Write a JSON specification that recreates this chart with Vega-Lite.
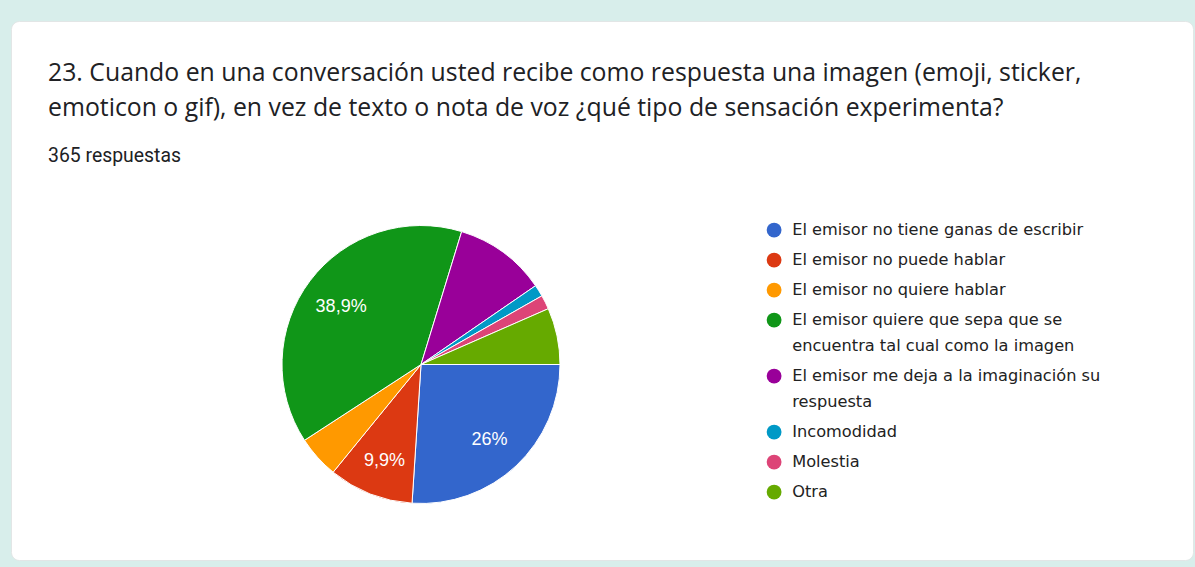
{
  "$schema": "https://vega.github.io/schema/vega-lite/v6.json",
  "width": 1182,
  "height": 539,
  "autosize": {"type": "none"},
  "padding": {"left": 11, "top": 21, "right": 2, "bottom": 7},
  "background": "#d8eeeb",
  "view": {"fill": "white", "cornerRadius": 8, "stroke": "#e2e6e6", "strokeWidth": 1},
  "config": {
    "style": {"guide-label": {"lineHeight": 26}}
  },
  "title": {
    "text": ["23. Cuando en una conversación usted recibe como respuesta una imagen (emoji, sticker,", "emoticon o gif), en vez de texto o nota de voz ¿qué tipo de sensación experimenta?"],
    "subtitle": "365 respuestas",
    "anchor": "start",
    "frame": "group",
    "orient": "top",
    "offset": -144,
    "dx": 37,
    "font": "Open Sans",
    "fontSize": 24.8,
    "fontWeight": "normal",
    "lineHeight": 35,
    "color": "#202124",
    "subtitleFont": "Roboto",
    "subtitleFontSize": 19.4,
    "subtitleColor": "#202124",
    "subtitlePadding": 26
  },
  "data": {
    "values": [
      {"idx": 1, "respuesta": "El emisor no tiene ganas de escribir", "n": 95, "etiqueta": "26%"},
      {"idx": 2, "respuesta": "El emisor no puede hablar", "n": 36, "etiqueta": "9,9%"},
      {"idx": 3, "respuesta": "El emisor no quiere hablar", "n": 18, "etiqueta": ""},
      {"idx": 4, "respuesta": "El emisor quiere que sepa que se encuentra tal cual como la imagen", "n": 142, "etiqueta": "38,9%"},
      {"idx": 5, "respuesta": "El emisor me deja a la imaginación su respuesta", "n": 39, "etiqueta": ""},
      {"idx": 6, "respuesta": "Incomodidad", "n": 5, "etiqueta": ""},
      {"idx": 7, "respuesta": "Molestia", "n": 6, "etiqueta": ""},
      {"idx": 8, "respuesta": "Otra", "n": 24, "etiqueta": ""}
    ]
  },
  "encoding": {
    "theta": {"field": "n", "type": "quantitative", "stack": true, "scale": {"range": [1.5707963, 7.8539816]}},
    "order": {"field": "idx", "type": "quantitative"}
  },
  "layer": [
    {
      "mark": {"type": "arc", "outerRadius": 139, "stroke": "white", "strokeWidth": 1, "x": 410, "y": 343.5},
      "encoding": {
        "color": {
          "field": "respuesta",
          "type": "nominal",
          "sort": {"field": "idx"},
          "scale": {
            "domain": ["El emisor no tiene ganas de escribir", "El emisor no puede hablar", "El emisor no quiere hablar", "El emisor quiere que sepa que se encuentra tal cual como la imagen", "El emisor me deja a la imaginación su respuesta", "Incomodidad", "Molestia", "Otra"],
            "range": ["#3366cc", "#dc3912", "#ff9900", "#109618", "#990099", "#0099c6", "#dd4477", "#66aa00"]
          },
          "legend": {
            "orient": "none",
            "legendX": 755,
            "legendY": 201,
            "title": null,
            "symbolType": "circle",
            "symbolSize": 220,
            "symbolStrokeWidth": 0,
            "labelFont": "DejaVu Sans",
            "labelFontSize": 16.2,
            "labelColor": "#222222",
            "labelOffset": 10,
            "labelLimit": 400,
            "rowPadding": 13,
            "labelExpr": "datum.label == 'El emisor quiere que sepa que se encuentra tal cual como la imagen' ? ['El emisor quiere que sepa que se', 'encuentra tal cual como la imagen'] : datum.label == 'El emisor me deja a la imaginación su respuesta' ? ['El emisor me deja a la imaginación su', 'respuesta'] : datum.label"
          }
        }
      }
    },
    {
      "mark": {"type": "text", "radius": 100, "x": 410, "y": 343.5, "dy": 3, "font": "Liberation Sans", "fontSize": 18},
      "encoding": {
        "text": {"field": "etiqueta"},
        "color": {"value": "white"},
        "detail": {"field": "respuesta"}
      }
    }
  ]
}
